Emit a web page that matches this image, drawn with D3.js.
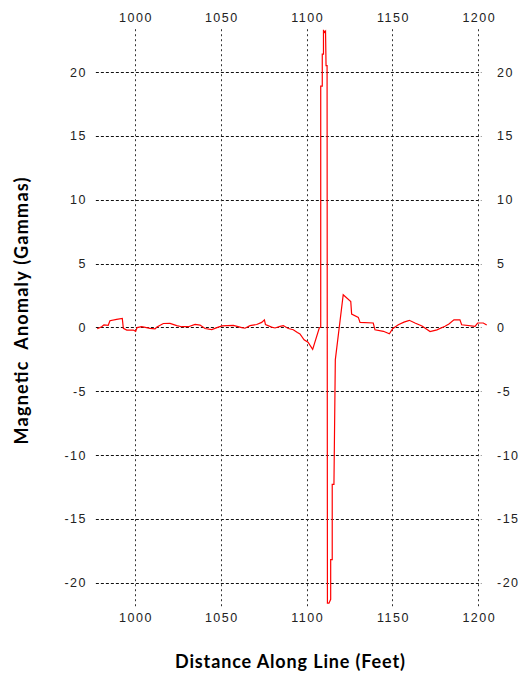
<!DOCTYPE html>
<html>
<head>
<meta charset="utf-8">
<script src="https://cdn.jsdelivr.net/npm/d3@7"></script>
<style>
    body { margin: 0; background: #fff; }
    .tickLabel { font-family: "Liberation Sans", Arial, sans-serif; font-size: 12.5px; letter-spacing: 1.5px; fill: #222; }
    .axisTitle { font-family: Lato, "Open Sans", sans-serif; font-size: 18px; font-weight: bold; fill: #000; }
</style>
</head>
<body>
<div id="chart"></div>
<script>

var svgWidth = 521;
var svgHeight = 673;

// tick values for both axes
var xTicks = [1000, 1050, 1100, 1150, 1200];
var yTicks = [20, 15, 10, 5, 0, -5, -10, -15, -20];

// distance along line (feet)
var distance = [978.0, 980.6, 981.9, 984.4, 985.4, 989.3, 992.6, 993.2, 995.2, 999.0,
    1000.4, 1001.2, 1003.9, 1008.7, 1011.7, 1012.8, 1016.5, 1020.4, 1024.3, 1027.2,
    1031.1, 1035.0, 1037.9, 1040.8, 1044.7, 1048.5, 1050.7, 1057.3, 1062.2, 1064.1,
    1067.0, 1070.9, 1073.8, 1075.4, 1076.0, 1079.6, 1081.6, 1084.5, 1086.4, 1089.3,
    1092.2, 1094.6, 1096.1, 1098.5, 1100.8, 1103.5, 1107.4, 1108.2, 1108.2, 1109.1,
    1109.1, 1109.8, 1109.8, 1110.4, 1111.0, 1111.3, 1111.9, 1112.1, 1113.0, 1114.0,
    1114.0, 1114.9, 1114.9, 1115.9, 1116.7, 1121.3, 1125.7, 1126.2, 1130.1, 1131.1,
    1138.8, 1139.8, 1144.7, 1148.2, 1150.1, 1153.4, 1156.7, 1159.8, 1163.1, 1167.2,
    1171.9, 1175.9, 1180.6, 1182.9, 1185.8, 1189.3, 1190.3, 1198.1, 1199.6, 1202.9,
    1204.9];

// magnetic anomaly (gammas)
var anomaly = [-0.11, 0.05, 0.20, 0.16, 0.52, 0.63, 0.70, -0.08, -0.21, -0.21,
    -0.31, -0.02, 0.05, -0.08, -0.12, 0.02, 0.30, 0.31, 0.14, 0.05,
    0.05, 0.23, 0.18, -0.09, -0.17, 0.02, 0.12, 0.16, -0.02, -0.07,
    0.13, 0.22, 0.39, 0.59, 0.22, 0.02, -0.05, 0.08, 0.14, -0.09,
    -0.19, -0.41, -0.52, -0.97, -1.17, -1.72, -0.03, 0.0, 18.9, 18.9,
    21.4, 21.4, 23.3, 23.1, 23.2, 20.5, 20.5, -21.6, -21.6, -21.3,
    -18.2, -18.2, -12.3, -12.3, -2.55, 2.55, 2.03, 1.04, 0.78, 0.39,
    0.34, -0.19, -0.31, -0.50, -0.11, 0.20, 0.41, 0.55, 0.34, 0.10,
    -0.33, -0.20, 0.08, 0.26, 0.59, 0.59, 0.20, 0.08, 0.34, 0.34,
    0.18];

var lineData = distance.map(function (d, i) {
    return { x: d, y: anomaly[i] };
});

var svg = d3
    .select("#chart")
    .append("svg")
    .attr("width", svgWidth)
    .attr("height", svgHeight);

// scales
var xLinearScale = d3.scaleLinear()
    .domain([1000, 1200])
    .range([135, 478.3]);

var yLinearScale = d3.scaleLinear()
    .domain([-20, 20])
    .range([582.7, 72]);

// extent of the grid
var gridLeft = xLinearScale(977.2);
var gridRight = xLinearScale(1201.8);
var gridTop = yLinearScale(23.35);
var gridBottom = yLinearScale(-22.05);

// horizontal dashed grid lines
svg.append("g")
    .selectAll("line")
    .data(yTicks)
    .enter()
    .append("line")
    .attr("x1", gridLeft)
    .attr("x2", gridRight)
    .attr("y1", d => Math.round(yLinearScale(d)) + 0.5)
    .attr("y2", d => Math.round(yLinearScale(d)) + 0.5)
    .attr("stroke", "#111")
    .attr("stroke-width", 1)
    .attr("stroke-dasharray", "3,2");

// vertical dotted grid lines
svg.append("g")
    .selectAll("line")
    .data(xTicks)
    .enter()
    .append("line")
    .attr("x1", d => Math.round(xLinearScale(d)) + 0.5)
    .attr("x2", d => Math.round(xLinearScale(d)) + 0.5)
    .attr("y1", gridTop)
    .attr("y2", gridBottom)
    .attr("stroke", "#333")
    .attr("stroke-width", 1)
    .attr("stroke-dasharray", "2,3");

// data line
var lineGen = d3.line()
    .x(d => xLinearScale(d.x))
    .y(d => yLinearScale(d.y));

svg.append("path")
    .datum(lineData)
    .attr("d", lineGen)
    .attr("fill", "none")
    .attr("stroke", "#ff0000")
    .attr("stroke-width", 1.2);

// x tick labels, top and bottom
svg.append("g")
    .selectAll("text")
    .data(xTicks)
    .enter()
    .append("text")
    .classed("tickLabel", true)
    .attr("x", d => xLinearScale(d) + 1)
    .attr("y", 22)
    .attr("text-anchor", "middle")
    .text(d => d);

svg.append("g")
    .selectAll("text")
    .data(xTicks)
    .enter()
    .append("text")
    .classed("tickLabel", true)
    .attr("x", d => xLinearScale(d) + 1)
    .attr("y", 622)
    .attr("text-anchor", "middle")
    .text(d => d);

// y tick labels, left and right
svg.append("g")
    .selectAll("text")
    .data(yTicks)
    .enter()
    .append("text")
    .classed("tickLabel", true)
    .attr("x", 87)
    .attr("y", d => yLinearScale(d) + 4.5)
    .attr("text-anchor", "end")
    .text(d => d);

svg.append("g")
    .selectAll("text")
    .data(yTicks)
    .enter()
    .append("text")
    .classed("tickLabel", true)
    .attr("x", 497)
    .attr("y", d => yLinearScale(d) + 4.5)
    .attr("text-anchor", "start")
    .text(d => d);

// axis titles
svg.append("text")
    .classed("axisTitle", true)
    .attr("x", 290)
    .attr("y", 668)
    .attr("text-anchor", "middle")
    .attr("textLength", 230)
    .attr("lengthAdjust", "spacing")
    .text("Distance Along Line (Feet)");

svg.append("text")
    .classed("axisTitle", true)
    .attr("transform", "translate(28, 311) rotate(-90)")
    .attr("text-anchor", "middle")
    .attr("textLength", 267)
    .attr("lengthAdjust", "spacing")
    .style("white-space", "pre")
    .text("Magnetic  Anomaly (Gammas)");

</script>
</body>
</html>
